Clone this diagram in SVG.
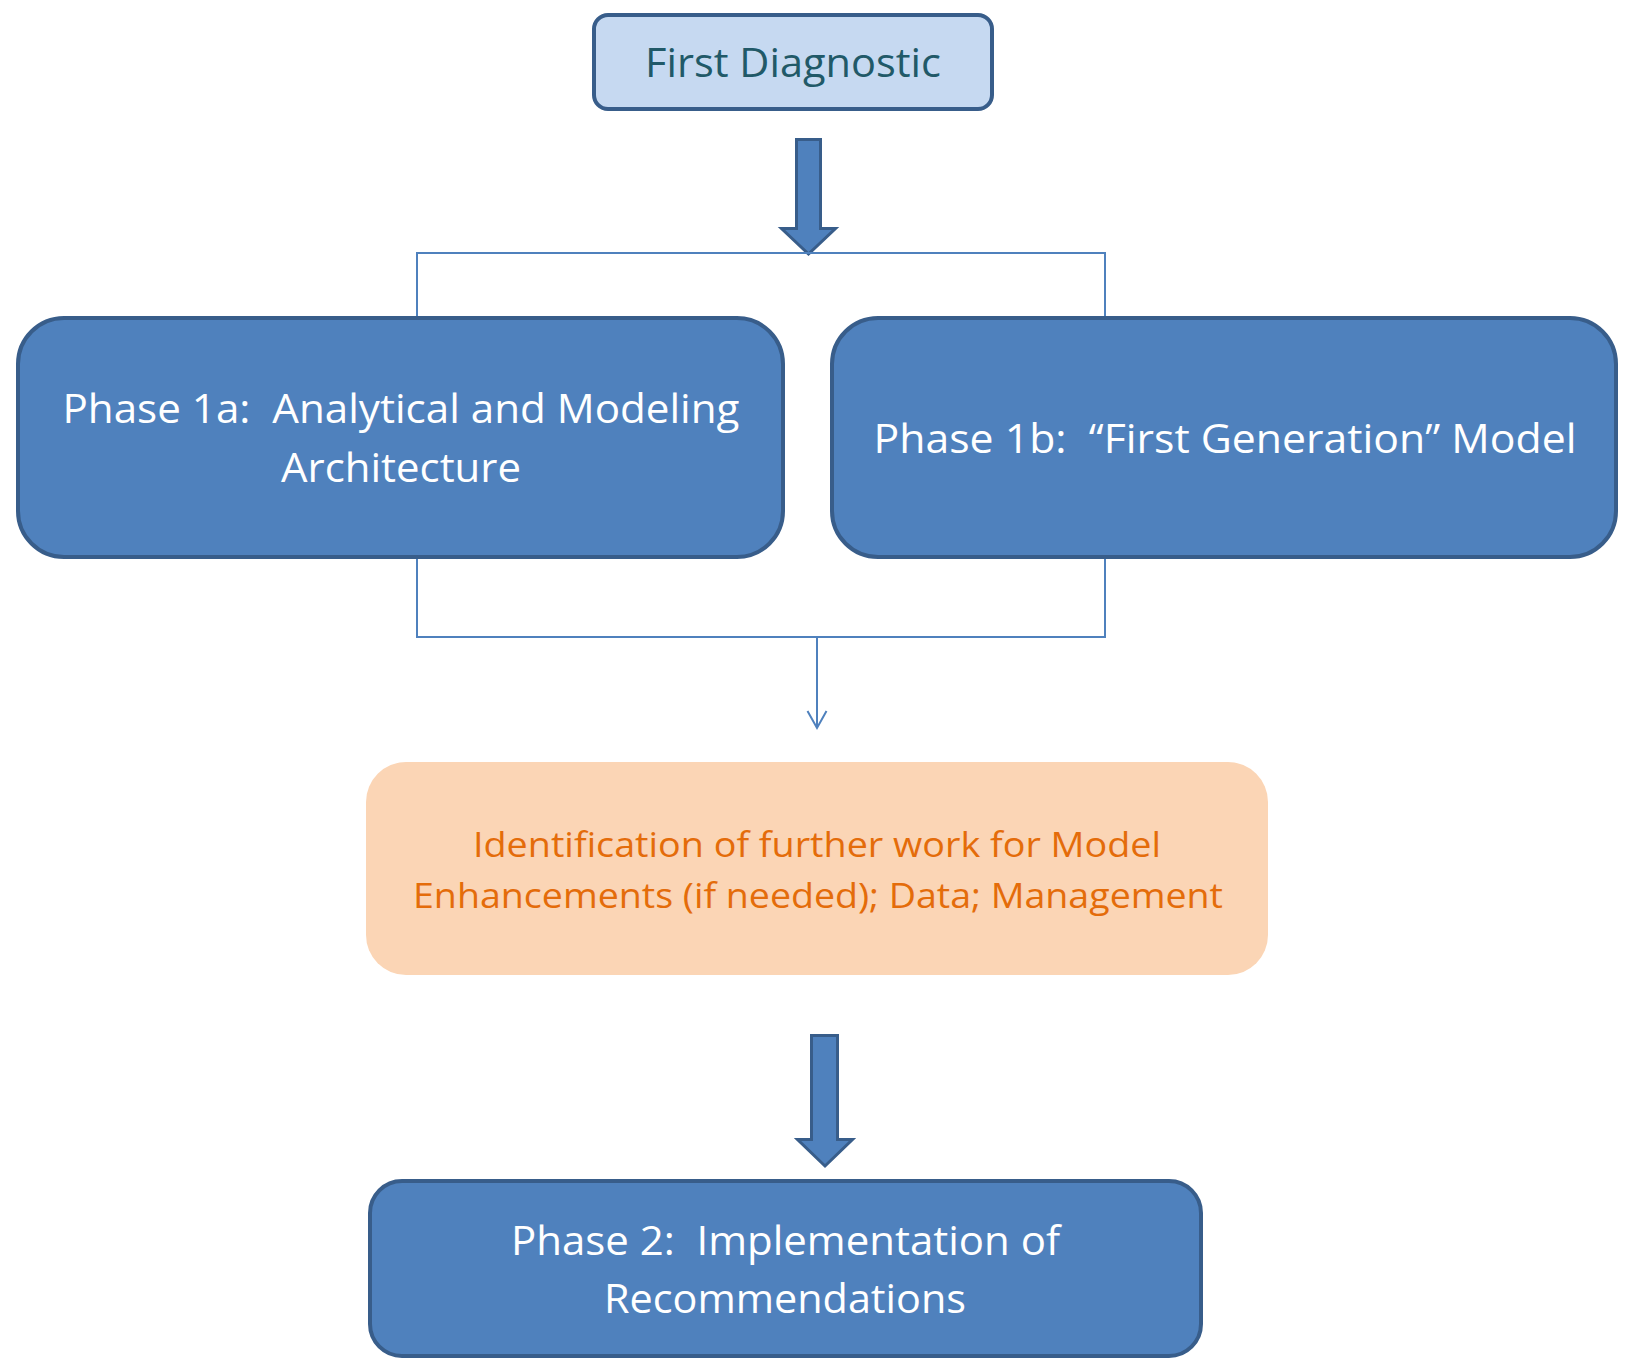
<svg xmlns="http://www.w3.org/2000/svg" width="1633" height="1369" viewBox="0 0 1633 1369" xml:space="preserve">
<defs>
<style>
.node-blue{fill:#4f81bd;stroke:#385d8a;stroke-width:4}
.node-light{fill:#c6d9f1;stroke:#385d8a;stroke-width:4}
.node-orange{fill:#fbd5b5;stroke:none}
.big-arrow{fill:#4f81bd;stroke:#385d8a;stroke-width:3;stroke-linejoin:miter}
.conn{fill:none;stroke:#4f81bd;stroke-width:2}
.t{font-family:"Open Sans","Liberation Sans",sans-serif;text-anchor:middle;white-space:pre}
.tw{fill:#ffffff;font-size:41px}
.td{fill:#215968;font-size:41px}
.to{fill:#e46c0a;font-size:35px}
</style>
<marker id="open" viewBox="-20 -20 40 40" refX="0" refY="0" markerWidth="40" markerHeight="40" markerUnits="userSpaceOnUse" orient="auto" overflow="visible">
<path d="M-17,-9.5 L0,0 L-17,9.5" fill="none" stroke="#4f81bd" stroke-width="2"/>
</marker>
</defs>
<rect width="1633" height="1369" fill="#ffffff"/>
<g id="connectors">
<polygon class="big-arrow" points="796.5,139.5 820.5,139.5 820.5,228.5 835.5,228.5 808.5,254 781.5,228.5 796.5,228.5"/>
<path class="conn" d="M417,316 V253 H1105 V316"/>
<path class="conn" d="M417,557 V637 H1105 V557"/>
<path class="conn" d="M817,637 V728" marker-end="url(#open)"/>
<polygon class="big-arrow" points="811.5,1035.5 837.5,1035.5 837.5,1139.5 852.5,1139.5 825,1166 797.5,1139.5 811.5,1139.5"/>
</g>
<g id="node-first-diagnostic">
<rect class="node-light" x="594" y="15" width="398" height="94" rx="14"/>
<text class="t td" x="793" y="77" textLength="296" lengthAdjust="spacingAndGlyphs">First Diagnostic</text>
</g>
<g id="node-phase-1a">
<rect class="node-blue" x="18" y="318" width="765" height="239" rx="46"/>
<text class="t tw" x="401" y="423" textLength="677" lengthAdjust="spacingAndGlyphs">Phase 1a:  Analytical and Modeling</text>
<text class="t tw" x="401" y="482" textLength="240" lengthAdjust="spacingAndGlyphs">Architecture</text>
</g>
<g id="node-phase-1b">
<rect class="node-blue" x="832" y="318" width="784" height="239" rx="46"/>
<text class="t tw" x="1225" y="453" textLength="703" lengthAdjust="spacingAndGlyphs">Phase 1b:  “First Generation” Model</text>
</g>
<g id="node-identification">
<rect class="node-orange" x="366" y="762" width="902" height="213" rx="40"/>
<text class="t to" x="817" y="857" textLength="688" lengthAdjust="spacingAndGlyphs">Identification of further work for Model</text>
<text class="t to" x="818" y="908" textLength="810" lengthAdjust="spacingAndGlyphs">Enhancements (if needed); Data; Management</text>
</g>
<g id="node-phase-2">
<rect class="node-blue" x="370" y="1181" width="831" height="175" rx="32"/>
<text class="t tw" x="785.5" y="1255" textLength="549" lengthAdjust="spacingAndGlyphs">Phase 2:  Implementation of</text>
<text class="t tw" x="785" y="1313" textLength="362" lengthAdjust="spacingAndGlyphs">Recommendations</text>
</g>
</svg>
